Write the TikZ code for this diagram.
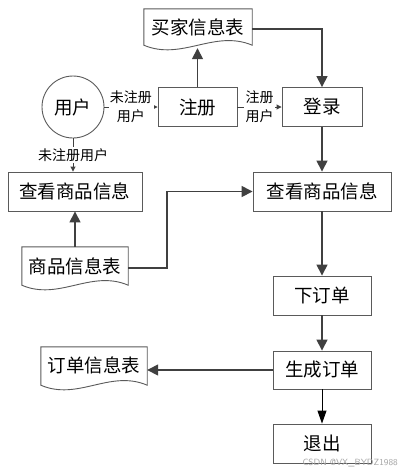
\documentclass[tikz,border=0pt]{standalone}
\usepackage{fontspec}
\newfontfamily\cjk{Noto Sans CJK SC}
\usetikzlibrary{arrows.meta,calc}
\definecolor{ln}{HTML}{404040}
\definecolor{bd}{HTML}{5A5A5A}
\tikzset{
  box/.style={draw=bd, line width=0.9pt, minimum height=39pt, inner sep=0pt,
    font=\cjk\fontsize{18.5}{22}\selectfont},
  doc/.style={inner sep=0pt, font=\cjk\fontsize{18.5}{22}\selectfont},
  docline/.style={draw=bd, line width=0.9pt},
  circ/.style={circle, draw=bd, line width=0.9pt, minimum size=62pt, inner sep=0pt,
    font=\cjk\fontsize{18.5}{22}\selectfont},
  lbl/.style={fill=white, inner sep=1.5pt, align=center,
    font=\cjk\fontsize{14}{19}\selectfont},
  bigarrow/.style={draw=ln, line width=1.5pt, -{Triangle[length=11pt,width=11pt]}},
  smallarrow/.style={draw=ln, line width=0.9pt, -{Triangle[length=5pt,width=5pt]}},
  blackarrow/.style={draw=black, line width=1pt, -{Triangle[length=13pt,width=9pt]}},
}
\newcommand\docshape[1]{%
  \draw[docline] (#1.north west) -- (#1.south west)
    .. controls ($(#1.south west)!0.35!(#1.south east)+(0,16)$)
       and ($(#1.south west)!0.65!(#1.south east)+(0,-16)$) .. (#1.south east)
    -- (#1.north east) -- cycle;}
\begin{document}
\begin{tikzpicture}[x=1pt,y=-1pt]
\useasboundingbox[fill=white] (0,0) rectangle (401,475);

% documents
\node[doc, minimum width=108pt, minimum height=36pt] (mj) at (198,27) {买家信息表};
\docshape{mj}
\node[doc, minimum width=106pt, minimum height=38pt] (sp) at (75,266) {商品信息表};
\docshape{sp}
\node[doc, minimum width=106pt, minimum height=38pt] (dd) at (94,366) {\raisebox{3pt}{订单信息表}};
\docshape{dd}

% user circle
\node[circ] (user) at (73,107) {用户};

% boxes
\node[box, minimum width=79pt] (zc) at (197.5,107) {注册};
\node[box, minimum width=80pt] (dl) at (322,107) {登录};
\node[box, minimum width=134pt] (ck1) at (75,191.5) {查看商品信息};
\node[box, minimum width=138pt] (ck2) at (322,191.5) {查看商品信息};
\node[box, minimum width=98pt] (xd) at (322,295.5) {下订单};
\node[box, minimum width=98pt, minimum height=38pt] (sc) at (322,370) {生成订单};
\node[box, minimum width=98pt] (tc) at (322,443.5) {退出};

% connectors
\draw[smallarrow] (user) -- node[lbl] {未注册\\用户} (zc);
\draw[smallarrow] (zc) -- node[lbl] {注册\\用户} (dl);
\draw[bigarrow] (zc.north) -- ($(zc.north|-mj.south)+(0,3)$);
\draw[bigarrow] ($(mj.east)+(0,2)$) -| (dl.north);
\draw[bigarrow] (dl.south) -- (ck2.north);
\draw[smallarrow] (user.south) -- node[lbl] {未注册用户} (user.south|-ck1.north);
\draw[bigarrow] (sp.north) -- (ck1.south);
\draw[bigarrow] ($(sp.east)+(0,2)$) -- ++(39,0) |- (ck2.west);
\draw[bigarrow] (ck2.south) -- (xd.north);
\draw[bigarrow] (xd.south) -- (sc.north);
\draw[bigarrow] (sc.west) -- (sc.west-|dd.east);
\draw[blackarrow] (sc.south) -- (tc.north);

% watermark
\node[anchor=east, text=black!35, inner sep=0pt, font=\fontsize{9}{10}\selectfont\sffamily] (wm) at (398,463) {CSDN @VX\_BYDZ1988};
\end{tikzpicture}
\end{document}
